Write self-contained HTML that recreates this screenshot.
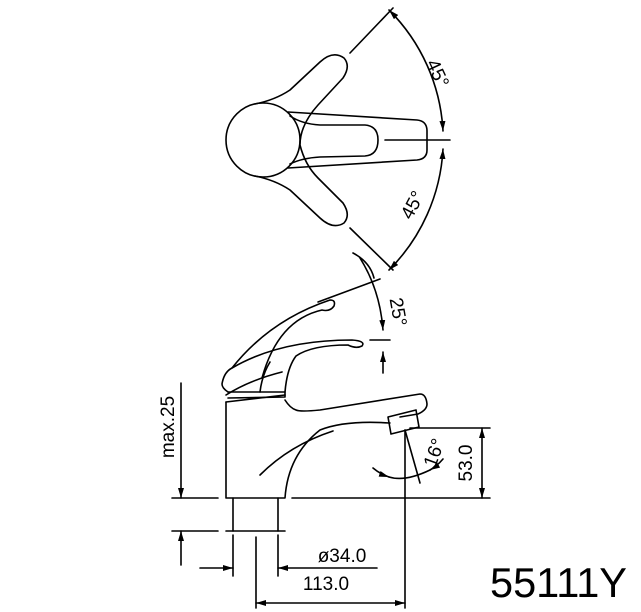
<!DOCTYPE html>
<html><head><meta charset="utf-8"><style>
html,body{margin:0;padding:0;background:#fff;}
svg{display:block;}
text{font-family:"Liberation Sans",sans-serif;fill:#000;}
</style></head><body>
<svg width="641" height="612" viewBox="0 0 641 612" xmlns="http://www.w3.org/2000/svg">
<defs>
<marker id="a" viewBox="0 0 10 6" refX="10" refY="3" markerWidth="10" markerHeight="6" orient="auto-start-reverse" markerUnits="userSpaceOnUse"><path d="M0,0 L10,3 L0,6 z" fill="#000"/></marker>
</defs>
<g fill="none" stroke="#000" stroke-width="1.6" stroke-linecap="round" stroke-linejoin="round">
<!-- TOP VIEW -->
<circle cx="263" cy="140" r="37"/>
<path d="M288,112 L417,120 Q427,121 427,131 L427,150 Q427,159 417,160 L288,168"/>
<path d="M290,116 Q302,124 320,125 L365,125 Q378,126 378,140 Q378,155 365,156 L320,157 Q302,158 290,164"/>
<path d="M255,104 Q275,100 290,90 L320,62 Q333,50 344,58 Q351,66 343,78 L318,105 Q300,125 300,145 Q305,165 318,178 L343,203 Q351,215 344,223 Q333,230 320,218 L290,190 Q275,180 255,176"/>
<line x1="385" y1="140" x2="450" y2="140"/>
<line x1="350" y1="53" x2="393" y2="8"/>
<line x1="350" y1="228" x2="393" y2="270"/>
<path d="M389,10 A185,185 0 0 1 443,131" marker-start="url(#a)" marker-end="url(#a)"/>
<path d="M443,149 A185,185 0 0 1 389,270" marker-start="url(#a)" marker-end="url(#a)"/>
<!-- SIDE VIEW -->
<path d="M226,402 L226,498 L285,498 Q288,455 320,430 Q345,420 390,423"/>
<path d="M285,400 Q290,408 296,410 Q300,412 320,410 L420,394 Q426,394 427,404 Q427,410 418,414 L400,417"/>
<path d="M388,417 L416,410 L419,427 L391,434 Z"/>
<path d="M260,475 Q290,445 333,431"/>
<line x1="226" y1="402" x2="285" y2="395"/>
<path d="M228,398 L285,397 L285,392 L228,392"/>
<path d="M228,392 Q222,388 222,384 Q224,372 232,368 Q280,340 352,340 Q366,341 362,346 Q356,349 348,345 Q312,345 296,356 Q287,368 285,392"/>
<path d="M260,392 Q262,375 270,362"/>
<path d="M232,368 Q270,320 330,300 Q336,300 334,306 Q330,312 322,310 Q278,320 262,378"/>
<path d="M226,395 Q250,380 282,372"/>
<line x1="233" y1="498" x2="233" y2="531"/>
<line x1="278" y1="498" x2="278" y2="531"/>
<line x1="172" y1="498" x2="218" y2="498"/>
<line x1="292" y1="498" x2="490" y2="498"/>
<line x1="172" y1="531" x2="218" y2="531"/>
<line x1="226" y1="531" x2="285" y2="531"/>
<line x1="181" y1="383" x2="181" y2="498" marker-end="url(#a)"/>
<line x1="181" y1="565" x2="181" y2="531" marker-end="url(#a)"/>
<line x1="233" y1="535" x2="233" y2="576"/>
<line x1="278" y1="535" x2="278" y2="576"/>
<line x1="256" y1="537" x2="256" y2="608"/>
<line x1="405" y1="430" x2="405" y2="608"/>
<line x1="200" y1="568" x2="233" y2="568" marker-end="url(#a)"/>
<line x1="377" y1="568" x2="278" y2="568" marker-end="url(#a)"/>
<line x1="256" y1="603" x2="405" y2="603" marker-start="url(#a)" marker-end="url(#a)"/>
<line x1="410" y1="428" x2="490" y2="428"/>
<line x1="482" y1="428" x2="482" y2="498" marker-start="url(#a)" marker-end="url(#a)"/>
<line x1="405" y1="430" x2="420" y2="483"/>
<path d="M373,468 Q380,474 389,477" marker-end="url(#a)"/>
<path d="M443,459 Q437,466 430,470" marker-end="url(#a)"/>
<path d="M389,477 Q405,482 430,470"/>
<line x1="318" y1="302" x2="380" y2="279"/>
<line x1="370" y1="340" x2="390" y2="340"/>
<path d="M353,253 Q370,262 374,278"/>
<path d="M360,258 Q380,290 383,330" marker-end="url(#a)"/>
<path d="M383,373 L383,352" marker-end="url(#a)"/>
</g>
<g font-size="19">
<text transform="translate(432,76) rotate(65)" text-anchor="middle">45°</text>
<text transform="translate(418,208) rotate(-62)" text-anchor="middle">45°</text>
<text transform="translate(392,313) rotate(80)" text-anchor="middle">25°</text>
<text transform="translate(174,427) rotate(-90)" text-anchor="middle">max.25</text>
<text transform="translate(440,455) rotate(-70)" text-anchor="middle">16°</text>
<text transform="translate(472,463) rotate(-90)" text-anchor="middle">53.0</text>
<text x="342" y="562" text-anchor="middle">ø34.0</text>
<text x="326" y="590" text-anchor="middle">113.0</text>
</g>
<text x="490" y="597" font-size="42" textLength="137" lengthAdjust="spacingAndGlyphs">55111Y</text>
</svg>
</body></html>
